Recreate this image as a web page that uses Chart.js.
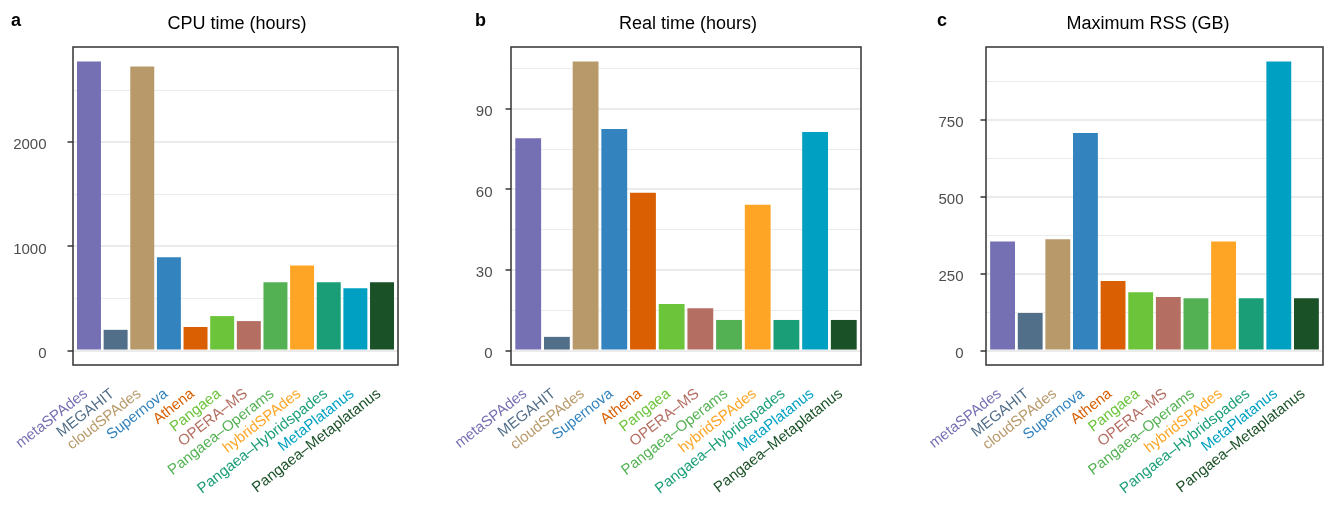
<!DOCTYPE html>
<html>
<head>
<meta charset="utf-8">
<script src="https://cdn.jsdelivr.net/npm/chart.js@4.4.1/dist/chart.umd.min.js"></script>
<style>
html,body{margin:0;padding:0;background:#fff;}
#wrap{position:relative;width:1330px;height:507px;}
#wrap canvas{position:absolute;left:0;top:0;}
</style>
</head>
<body>
<div id="wrap">
<canvas id="pa" width="1330" height="507"></canvas>
<canvas id="pb" width="1330" height="507"></canvas>
<canvas id="pc" width="1330" height="507"></canvas>
</div>
<script>
// ---- data ----
const categories = ["metaSPAdes","MEGAHIT","cloudSPAdes","Supernova","Athena","Pangaea","OPERA\u2013MS",
  "Pangaea\u2013Operams","hybridSPAdes","Pangaea\u2013Hybridspades","MetaPlatanus","Pangaea\u2013Metaplatanus"];
const barColors = ["#7570b3","#526f89","#b8996a","#3283be","#d95f02","#6bc43a","#b46e62",
  "#54b153","#ffa526","#1a9e78","#00a0c2","#1a5127"];
const cpuTime  = [2777, 199, 2729, 895, 226, 331, 283, 656, 818, 656, 599, 656];
const realTime = [79.1, 5.1, 107.7, 82.5, 58.8, 17.3, 15.8, 11.4, 54.3, 11.4, 81.4, 11.4];
const maxRSS   = [355, 122, 362, 708, 226, 190, 174, 170, 355, 170, 941, 170];
const cpuGrid  = [0, 500, 1000, 1500, 2000, 2500];
const cpuTickLabels = [0, 1000, 2000];
const realGrid = [0, 15, 30, 45, 60, 75, 90, 105];
const realTickLabels = [0, 30, 60, 90];
const rssGrid  = [0, 125, 250, 375, 500, 625, 750, 875];
const rssTickLabels = [0, 250, 500, 750];
const titles = ["CPU time (hours)", "Real time (hours)", "Maximum RSS (GB)"];
const letters = ["a", "b", "c"];

// ---- layout ----
const FONT = '"Liberation Sans", Arial, Helvetica, sans-serif';
const W = 1330, H = 507;
const TOP = 47, BOTTOM = 365;
const panels = [
  {id:"pa", values:cpuTime,  grid:cpuGrid,  labels:cpuTickLabels,  title:titles[0], letter:letters[0],
   left:0,   yWidth:73,  right:398,  tickPad:21, titleX:237,  letterX:11},
  {id:"pb", values:realTime, grid:realGrid, labels:realTickLabels, title:titles[1], letter:letters[1],
   left:440, yWidth:71,  right:861,  tickPad:13, titleX:688,  letterX:475},
  {id:"pc", values:maxRSS,   grid:rssGrid,  labels:rssTickLabels,  title:titles[2], letter:letters[2],
   left:890, yWidth:96,  right:1323, tickPad:17, titleX:1148, letterX:937}
];

const decor = {
  id: 'decor',
  afterDraw(chart, args, o) {
    const {ctx, chartArea: a} = chart;
    ctx.save();
    ctx.strokeStyle = '#333333';
    ctx.lineWidth = 1.5;
    ctx.strokeRect(a.left, a.top, a.right - a.left, a.bottom - a.top);
    ctx.fillStyle = '#000';
    ctx.textBaseline = 'alphabetic';
    ctx.font = '18px ' + FONT;
    ctx.textAlign = 'center';
    ctx.fillText(o.title, o.titleX, 29);
    ctx.font = 'bold 18px ' + FONT;
    ctx.textAlign = 'left';
    ctx.fillText(o.letter, o.letterX, 26);
    ctx.restore();
  }
};

panels.forEach(p => {
  const vmax = Math.max(...p.values);
  new Chart(document.getElementById(p.id), {
    type: 'bar',
    data: {
      datasets: [{
        data: p.values.map((v, i) => ({x: i, y: v})),
        backgroundColor: barColors,
        borderWidth: 0,
        barPercentage: 0.9,
        categoryPercentage: 1.0
      }]
    },
    options: {
      responsive: false,
      animation: false,
      events: [],
      layout: {padding: {left: p.left, right: W - p.right, top: TOP, bottom: 0}},
      plugins: {
        legend: {display: false},
        tooltip: {enabled: false},
        title: {display: false},
        decor: {title: p.title, letter: p.letter, titleX: p.titleX, letterX: p.letterX}
      },
      scales: {
        x: {
          type: 'linear',
          min: -0.6,
          max: categories.length - 1 + 0.6,
          offset: false,
          afterBuildTicks: s => { s.ticks = categories.map((c, i) => ({value: i})); },
          afterFit: s => { s.height = H - BOTTOM; s.paddingLeft = 0; s.paddingRight = 0; },
          grid: {display: false},
          border: {display: false},
          ticks: {
            autoSkip: false,
            minRotation: 38,
            maxRotation: 38,
            padding: 12,
            labelOffset: -3,
            font: {family: FONT, size: 15},
            color: c => barColors[c.index],
            callback: (v, i) => categories[i]
          }
        },
        y: {
          type: 'linear',
          min: -0.05 * vmax,
          max: 1.05 * vmax,
          afterBuildTicks: s => { s.ticks = p.grid.map(v => ({value: v})); },
          afterFit: s => { s.width = p.yWidth; s.paddingTop = 0; s.paddingBottom = 0; },
          border: {display: false},
          grid: {
            color: '#ebebeb',
            lineWidth: c => (c.tick && p.labels.includes(c.tick.value)) ? 2 : 1.1,
            drawTicks: true,
            tickLength: 5.5,
            tickWidth: 1.5,
            tickColor: c => (c.tick && p.labels.includes(c.tick.value)) ? '#333333' : 'rgba(0,0,0,0)'
          },
          ticks: {
            autoSkip: false,
            padding: p.tickPad,
            labelOffset: 3,
            color: '#4d4d4d',
            font: {family: FONT, size: 15},
            callback: v => p.labels.includes(v) ? String(v) : ''
          }
        }
      }
    },
    plugins: [decor]
  });
});
</script>
</body>
</html>
